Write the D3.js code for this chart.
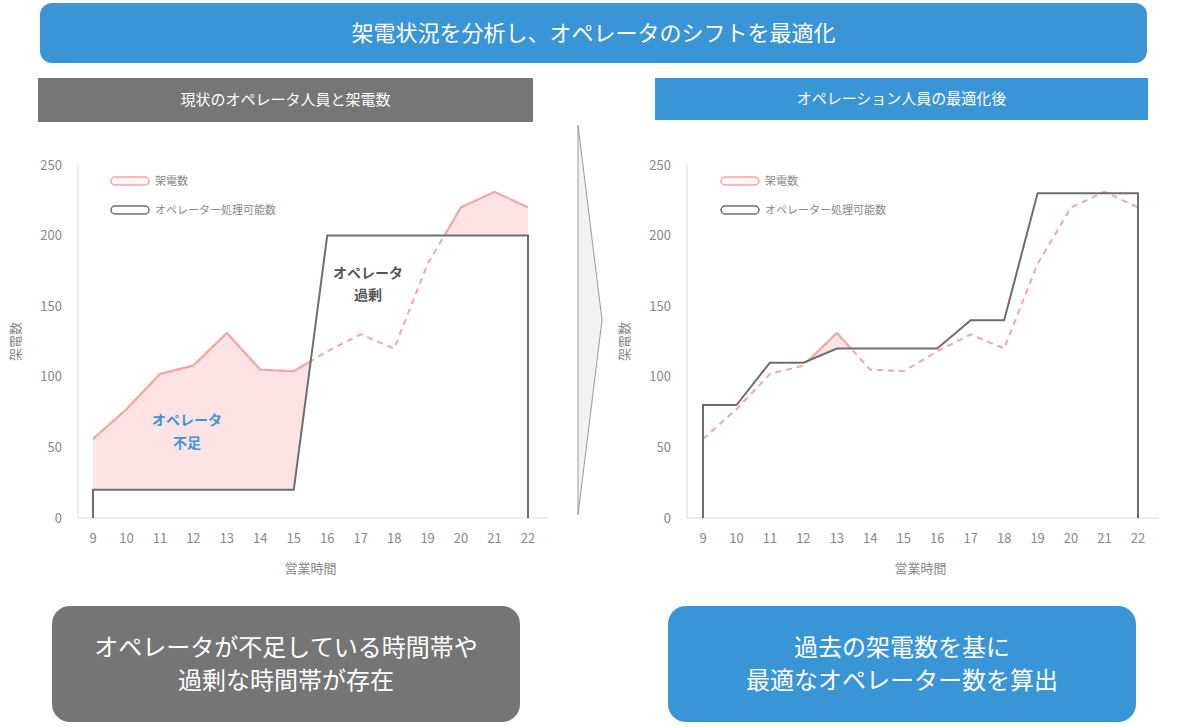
<!DOCTYPE html><html><head><meta charset="utf-8"><script src="https://cdn.jsdelivr.net/npm/d3@7"></script>
<style>body{margin:0;background:#fff;font-family:"Noto Sans CJK JP","Noto Sans",sans-serif}</style></head><body><svg id="s" width="1200" height="727"></svg>
<script>
const hours=[9,10,11,12,13,14,15,16,17,18,19,20,21,22];
const calls=[56,77,102,108,131,105,104,118,130,120,180,220,231,220];
const opsBefore=[20,20,20,20,20,20,20,200,200,200,200,200,200,200];
const opsAfter=[80,80,110,110,120,120,120,120,140,140,230,230,230,230];
const yTicks=[0,50,100,150,200,250];
const svg=d3.select("#s");
const F='"Noto Sans CJK JP",sans-serif';
function box(x,y,w,h,r,c,t,fs,ty){svg.append("rect").attr("x",x).attr("y",y).attr("width",w).attr("height",h).attr("rx",r).attr("fill",c);
 const lines=t.split("\n");lines.forEach((l,i)=>svg.append("text").attr("x",x+w/2).attr("y",y+h/2+(i-(lines.length-1)/2)*fs*1.35).attr("dy","0.35em").attr("text-anchor","middle").attr("fill","#fff").attr("font-size",fs).attr("font-family",F).text(l));}
box(40,3,1107,60,12,"#3a95d6","架電状況を分析し、オペレータのシフトを最適化",22);
box(38,78,495,44,0,"#767676","現状のオペレータ人員と架電数",15);
box(655,78,493,42,0,"#3a95d6","オペレーション人員の最適化後",15);
box(52,606,468,116,18,"#757575","オペレータが不足している時間帯や\n過剰な時間帯が存在",24);
box(668,606,468,116,18,"#3a95d6","過去の架電数を基に\n最適なオペレーター数を算出",24);
svg.append("path").attr("d","M578,125 L602,320 L578,515 Z").attr("fill","#f2f2f2").attr("stroke","#999");
let cid=0;
function chart(ax,x0,x1,ops,blue){
 const x=d3.scalePoint().domain(hours).range([x0,x1]);
 const y=d3.scaleLinear().domain([0,250]).range([518,165]);
 const g=svg.append("g");
 g.append("line").attr("x1",ax).attr("x2",ax).attr("y1",165).attr("y2",518).attr("stroke","#d9d9d9");
 g.append("line").attr("x1",ax).attr("x2",x1+20).attr("y1",518).attr("y2",518).attr("stroke","#d9d9d9");
 yTicks.forEach(t=>g.append("text").attr("x",ax-16).attr("y",y(t)).attr("dy","0.35em").attr("text-anchor","end").attr("font-size",13).attr("fill","#888").attr("font-family",F).text(t));
 hours.forEach(h=>g.append("text").attr("x",x(h)).attr("y",543).attr("text-anchor","middle").attr("font-size",13).attr("fill","#888").attr("font-family",F).text(h));
 g.append("text").attr("x",(x0+x1)/2).attr("y",573).attr("text-anchor","middle").attr("font-size",13).attr("fill","#888").attr("font-family",F).text("営業時間");
 g.append("text").attr("transform",`translate(${ax-58},${y(125)}) rotate(-90)`).attr("text-anchor","middle").attr("font-size",13).attr("fill","#888").attr("font-family",F).text("架電数");
 const id="c"+(cid++);
 const opLine=d3.line().x((d,i)=>x(hours[i])).y(d=>y(d));
 svg.append("clipPath").attr("id",id).append("path").attr("d",opLine(ops)+`L${x1},100L${x0},100Z`);
 const ar=d3.area().x((d,i)=>x(hours[i])).y0((d,i)=>y(ops[i])).y1(d=>y(d));
 g.append("path").attr("d",ar(calls)).attr("clip-path",`url(#${id})`).attr("fill",blue?"#fbe6e6":"#fde3e3");
 const cl=d3.line().x((d,i)=>x(hours[i])).y(d=>y(d));
 g.append("path").attr("d",cl(calls)).attr("fill","none").attr("stroke","#f4a6a6").attr("stroke-width",2).attr("stroke-dasharray","6,5");
 g.append("path").attr("d",cl(calls)).attr("clip-path",`url(#${id})`).attr("fill","none").attr("stroke","#f4a6a6").attr("stroke-width",2);
 g.append("path").attr("d",`M${x0},${y(0)}L`+opLine(ops).slice(1)+`L${x1},${y(0)}`).attr("fill","none").attr("stroke","#6e6e6e").attr("stroke-width",2);
 const lx=x0+18;
 g.append("rect").attr("x",lx).attr("y",177).attr("width",38).attr("height",8).attr("rx",4).attr("fill","#fff5f5").attr("stroke","#f4a6a6").attr("stroke-width",1.5);
 g.append("text").attr("x",lx+44).attr("y",181).attr("dy","0.35em").attr("font-size",11).attr("fill","#888").attr("font-family",F).text("架電数");
 g.append("rect").attr("x",lx).attr("y",206).attr("width",38).attr("height",8).attr("rx",4).attr("fill","#fff").attr("stroke","#6e6e6e").attr("stroke-width",1.5);
 g.append("text").attr("x",lx+44).attr("y",210).attr("dy","0.35em").attr("font-size",11).attr("fill","#888").attr("font-family",F).text("オペレーター処理可能数");
 return {x,y,g};
}
const L=chart(78,93,528,opsBefore,false);
[["オペレータ",425],["不足",448]].forEach(([t,yy])=>L.g.append("text").attr("x",187).attr("y",yy).attr("text-anchor","middle").attr("font-size",14).attr("font-weight","bold").attr("fill","#3a95d6").attr("font-family",F).text(t));
[["オペレータ",278],["過剰",300]].forEach(([t,yy])=>L.g.append("text").attr("x",368).attr("y",yy).attr("text-anchor","middle").attr("font-size",14).attr("font-weight","bold").attr("fill","#555").attr("font-family",F).text(t));
chart(687,703,1138,opsAfter,true);
</script></body></html>
